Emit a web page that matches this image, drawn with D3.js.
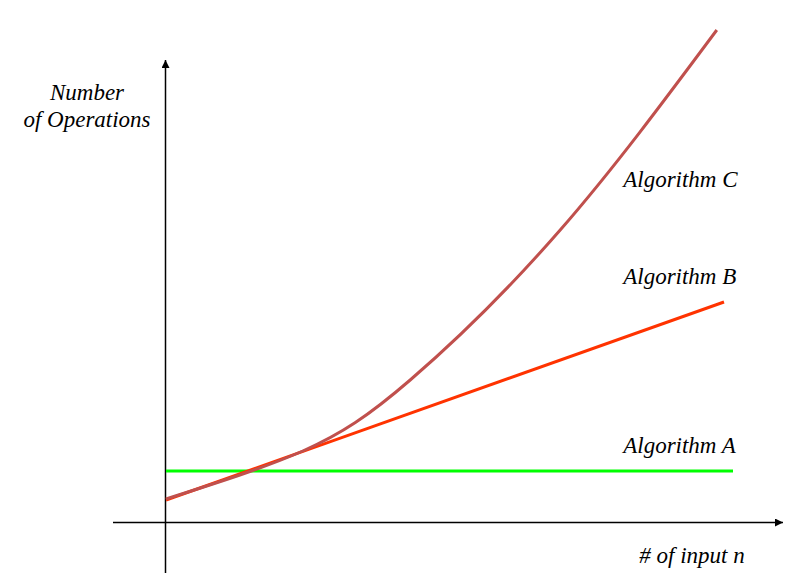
<!DOCTYPE html>
<html>
<head>
<meta charset="utf-8">
<script src="https://cdn.jsdelivr.net/npm/d3@7"></script>
<style>
  html, body { margin: 0; padding: 0; background: #fff; }
  svg { display: block; }
  text { font-family: "Liberation Serif", "Times New Roman", serif; font-style: italic; fill: #000; }
</style>
</head>
<body>
<svg id="chart" width="809" height="573"></svg>
<script>
// ---- data ----
const algorithmA = [[0, 10.4], [94.5, 10.4]];
const algorithmB = [[0, 4.6], [93, 44.2]];
const algorithmCx = [0, 22.8, 40.7, 65.7, 91.8];
const algorithmCy = [4.8, 14.4, 28.6, 58.6, 98.6];
const seriesNames = ["Algorithm A", "Algorithm B", "Algorithm C"];
const seriesColors = ["#00ff00", "#ff3300", "#c0504d"];
const labelPos = [[76.2, 14.0], [76.2, 47.8], [76.2, 67.2]];
const yTitle = ["Number", "of Operations"];
const xTitle = "# of input n";

// ---- layout ----
const svg = d3.select("#chart");
const x = d3.scaleLinear().domain([0, 100]).range([166, 766]);
const y = d3.scaleLinear().domain([0, 100]).range([523, 23]);

// arrow markers
const defs = svg.append("defs");
defs.append("marker").attr("id", "arrow")
  .attr("viewBox", "0 0 10 10").attr("refX", 10).attr("refY", 5)
  .attr("markerWidth", 10).attr("markerHeight", 8).attr("markerUnits", "userSpaceOnUse")
  .attr("orient", "auto")
  .append("path").attr("d", "M0,0 L10,5 L0,10 Z").attr("fill", "#000");

// axes
svg.append("line")
  .attr("x1", x(0) - 0.5).attr("y1", 573).attr("x2", x(0) - 0.5).attr("y2", 60)
  .attr("stroke", "#000").attr("stroke-width", 1.5).attr("marker-end", "url(#arrow)");
svg.append("line")
  .attr("x1", 113).attr("y1", y(0) - 0.5).attr("x2", 783).attr("y2", y(0) - 0.5)
  .attr("stroke", "#000").attr("stroke-width", 1.5).attr("marker-end", "url(#arrow)");

// series
const line = d3.line().x(d => x(d[0])).y(d => y(d[1]));
const curveC = algorithmCx.map((v, i) => [v, algorithmCy[i]]);

svg.append("path").datum(algorithmA)
  .attr("d", line).attr("fill", "none")
  .attr("stroke", seriesColors[0]).attr("stroke-width", 3);
svg.append("path").datum(algorithmB)
  .attr("d", line).attr("fill", "none")
  .attr("stroke", seriesColors[1]).attr("stroke-width", 3);
svg.append("path").datum(curveC)
  .attr("d", d3.line().x(d => x(d[0])).y(d => y(d[1])).curve(d3.curveNatural))
  .attr("fill", "none")
  .attr("stroke", seriesColors[2]).attr("stroke-width", 3);

// series labels
seriesNames.forEach((name, i) => {
  svg.append("text")
    .attr("x", x(labelPos[i][0])).attr("y", y(labelPos[i][1]))
    .attr("font-size", 23)
    .text(name);
});

// axis titles
yTitle.forEach((t, i) => {
  svg.append("text")
    .attr("x", 87).attr("y", 100 + i * 27)
    .attr("text-anchor", "middle")
    .attr("font-size", 23)
    .text(t);
});
svg.append("text")
  .attr("x", 692).attr("y", 563)
  .attr("text-anchor", "middle")
  .attr("font-size", 23)
  .text(xTitle);
</script>
</body>
</html>
